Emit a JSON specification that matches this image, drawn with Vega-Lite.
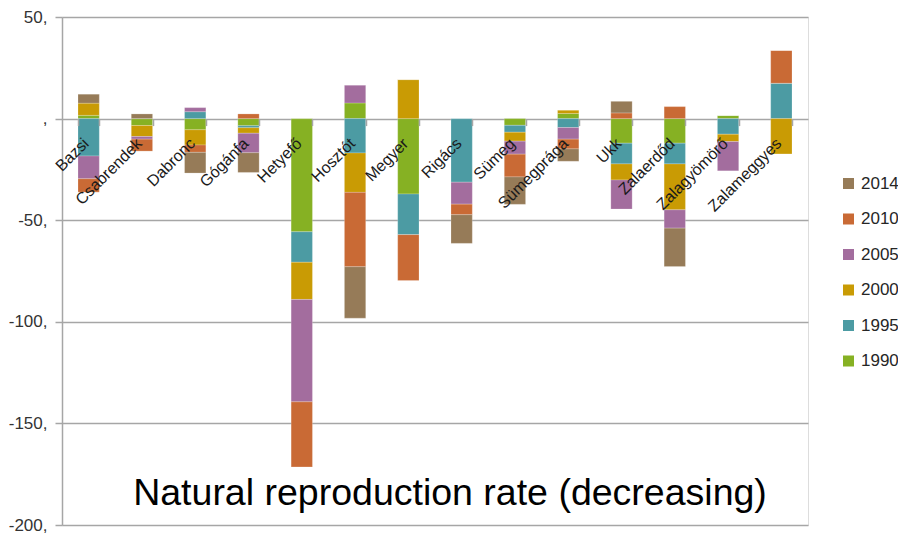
{
  "$schema": "https://vega.github.io/schema/vega-lite/v6.json",
  "width": 746,
  "height": 508,
  "autosize": "none",
  "padding": {"left": 62, "top": 17, "right": 90, "bottom": 8},
  "background": "white",
  "title": {
    "text": "Natural reproduction rate (decreasing)",
    "orient": "bottom",
    "frame": "group",
    "anchor": "middle",
    "baseline": "alphabetic",
    "offset": -28,
    "dx": 15,
    "font": "Liberation Sans",
    "fontSize": 37.5,
    "fontWeight": "normal",
    "color": "#000000"
  },
  "data": {
    "values": [
      {"place": "Bazsi", "year": 1990, "value": 1.6},
      {"place": "Bazsi", "year": 1995, "value": -18.4},
      {"place": "Bazsi", "year": 2000, "value": 6},
      {"place": "Bazsi", "year": 2005, "value": -11.2},
      {"place": "Bazsi", "year": 2010, "value": -6.6},
      {"place": "Bazsi", "year": 2014, "value": 4.4},
      {"place": "Csabrendek", "year": 1990, "value": -3.4},
      {"place": "Csabrendek", "year": 1995, "value": 0},
      {"place": "Csabrendek", "year": 2000, "value": -5.4},
      {"place": "Csabrendek", "year": 2005, "value": -1.3},
      {"place": "Csabrendek", "year": 2010, "value": -5.9},
      {"place": "Csabrendek", "year": 2014, "value": 2.3},
      {"place": "Dabronc", "year": 1990, "value": -5.5},
      {"place": "Dabronc", "year": 1995, "value": 3.4},
      {"place": "Dabronc", "year": 2000, "value": -7.5},
      {"place": "Dabronc", "year": 2005, "value": 2},
      {"place": "Dabronc", "year": 2010, "value": -3.6},
      {"place": "Dabronc", "year": 2014, "value": -10.2},
      {"place": "Gógánfa", "year": 1990, "value": -3.5},
      {"place": "Gógánfa", "year": 1995, "value": -1},
      {"place": "Gógánfa", "year": 2000, "value": -2.7},
      {"place": "Gógánfa", "year": 2005, "value": -9.6},
      {"place": "Gógánfa", "year": 2010, "value": 2.3},
      {"place": "Gógánfa", "year": 2014, "value": -9.7},
      {"place": "Hetyefő", "year": 1990, "value": -55.7},
      {"place": "Hetyefő", "year": 1995, "value": -15},
      {"place": "Hetyefő", "year": 2000, "value": -18.3},
      {"place": "Hetyefő", "year": 2005, "value": -50.4},
      {"place": "Hetyefő", "year": 2010, "value": -32},
      {"place": "Hetyefő", "year": 2014, "value": 0},
      {"place": "Hosztót", "year": 1990, "value": 7.7},
      {"place": "Hosztót", "year": 1995, "value": -16.9},
      {"place": "Hosztót", "year": 2000, "value": -19.4},
      {"place": "Hosztót", "year": 2005, "value": 8.7},
      {"place": "Hosztót", "year": 2010, "value": -36.6},
      {"place": "Hosztót", "year": 2014, "value": -25.3},
      {"place": "Megyer", "year": 1990, "value": -37.1},
      {"place": "Megyer", "year": 1995, "value": -20},
      {"place": "Megyer", "year": 2000, "value": 19.2},
      {"place": "Megyer", "year": 2005, "value": 0},
      {"place": "Megyer", "year": 2010, "value": -22.6},
      {"place": "Megyer", "year": 2014, "value": 0},
      {"place": "Rigács", "year": 1990, "value": 0},
      {"place": "Rigács", "year": 1995, "value": -31.3},
      {"place": "Rigács", "year": 2000, "value": 0},
      {"place": "Rigács", "year": 2005, "value": -10.8},
      {"place": "Rigács", "year": 2010, "value": -5.2},
      {"place": "Rigács", "year": 2014, "value": -14.1},
      {"place": "Sümeg", "year": 1990, "value": -3.3},
      {"place": "Sümeg", "year": 1995, "value": -3.4},
      {"place": "Sümeg", "year": 2000, "value": -4.4},
      {"place": "Sümeg", "year": 2005, "value": -6.4},
      {"place": "Sümeg", "year": 2010, "value": -11.2},
      {"place": "Sümeg", "year": 2014, "value": -13.5},
      {"place": "Sümegprága", "year": 1990, "value": 2.5},
      {"place": "Sümegprága", "year": 1995, "value": -4.4},
      {"place": "Sümegprága", "year": 2000, "value": 1.6},
      {"place": "Sümegprága", "year": 2005, "value": -5.7},
      {"place": "Sümegprága", "year": 2010, "value": -4.8},
      {"place": "Sümegprága", "year": 2014, "value": -6.1},
      {"place": "Ukk", "year": 1990, "value": -12.1},
      {"place": "Ukk", "year": 1995, "value": -10.2},
      {"place": "Ukk", "year": 2000, "value": -7.9},
      {"place": "Ukk", "year": 2005, "value": -14.3},
      {"place": "Ukk", "year": 2010, "value": 2.8},
      {"place": "Ukk", "year": 2014, "value": 5.7},
      {"place": "Zalaerdőd", "year": 1990, "value": -12.1},
      {"place": "Zalaerdőd", "year": 1995, "value": -10.2},
      {"place": "Zalaerdőd", "year": 2000, "value": -22.6},
      {"place": "Zalaerdőd", "year": 2005, "value": -9},
      {"place": "Zalaerdőd", "year": 2010, "value": 5.9},
      {"place": "Zalaerdőd", "year": 2014, "value": -18.9},
      {"place": "Zalagyömörő", "year": 1990, "value": 1.5},
      {"place": "Zalagyömörő", "year": 1995, "value": -7.7},
      {"place": "Zalagyömörő", "year": 2000, "value": -3.6},
      {"place": "Zalagyömörő", "year": 2005, "value": -14.4},
      {"place": "Zalagyömörő", "year": 2010, "value": 0},
      {"place": "Zalagyömörő", "year": 2014, "value": 0},
      {"place": "Zalameggyes", "year": 1990, "value": 0},
      {"place": "Zalameggyes", "year": 1995, "value": 17.4},
      {"place": "Zalameggyes", "year": 2000, "value": -17.4},
      {"place": "Zalameggyes", "year": 2005, "value": 0},
      {"place": "Zalameggyes", "year": 2010, "value": 16.1},
      {"place": "Zalameggyes", "year": 2014, "value": 0}
    ]
  },
  "mark": {"type": "bar", "stroke": "#ffffff", "strokeOpacity": 0.35, "strokeWidth": 0.6},
  "encoding": {
    "x": {
      "field": "place",
      "type": "nominal",
      "sort": null,
      "scale": {"paddingInner": 0.6, "paddingOuter": 0.3},
      "axis": {
        "title": null,
        "offset": -406.4,
        "domain": false,
        "ticks": true,
        "tickBand": "extent",
        "tickSize": 7,
        "tickColor": "#a6a6a6",
        "tickWidth": 1.5,
        "labelAngle": -45,
        "labelAlign": "right",
        "labelBaseline": "middle",
        "labelPadding": 15,
        "labelOffset": -3,
        "labelFont": "Liberation Sans",
        "labelFontSize": 16,
        "labelColor": "#1a1a1a",
        "labelOverlap": false,
        "zindex": 1
      }
    },
    "y": {
      "field": "value",
      "type": "quantitative",
      "stack": "zero",
      "scale": {"domain": [-200, 50], "nice": false},
      "axis": {
        "title": null,
        "values": [-200, -150, -100, -50, 0, 50],
        "labelExpr": "datum.value == 0 ? ',' : datum.value + ','",
        "grid": true,
        "gridColor": "#a6a6a6",
        "gridWidth": 1.5,
        "domainColor": "#a6a6a6",
        "domainWidth": 1.5,
        "tickColor": "#a6a6a6",
        "tickWidth": 1.5,
        "tickSize": 7,
        "labelPadding": 8,
        "labelFont": "Liberation Sans",
        "labelFontSize": 17,
        "labelColor": "#333333"
      }
    },
    "color": {
      "field": "year",
      "type": "nominal",
      "scale": {
        "domain": [2014, 2010, 2005, 2000, 1995, 1990],
        "range": ["#967B58", "#C96A35", "#A36D9E", "#C99B04", "#4C9BA3", "#86B123"]
      },
      "legend": {
        "title": null,
        "orient": "none",
        "legendX": 778,
        "legendY": 158,
        "symbolType": "square",
        "symbolSize": 121,
        "symbolStrokeWidth": 0,
        "labelFont": "Liberation Sans",
        "labelFontSize": 17,
        "labelColor": "#262626",
        "labelOffset": 4,
        "rowPadding": 17.5,
        "padding": 0
      }
    },
    "order": {"field": "year", "type": "quantitative", "sort": "ascending"}
  }
}
